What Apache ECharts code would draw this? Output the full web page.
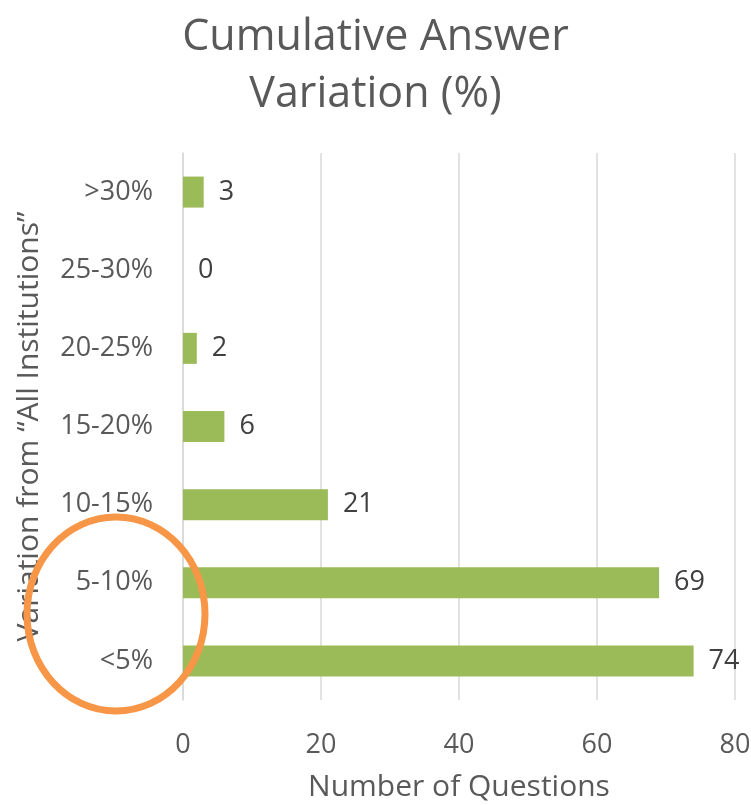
<!DOCTYPE html>
<html>
<head>
    <meta charset="utf-8">
    <title>Cumulative Answer Variation</title>
    <script src="https://cdn.jsdelivr.net/npm/echarts@6/dist/echarts.min.js"></script>
    <style>
        html, body { margin: 0; padding: 0; background: #fff; }
    </style>
</head>
<body>
<div id="main" style="width: 751px;height:805px;"></div>
<script type="text/javascript">
    // data (bottom to top)
    var categories = ['<5%', '5-10%', '10-15%', '15-20%', '20-25%', '25-30%', '>30%'];
    var questionCounts = [74, 69, 21, 6, 2, 0, 3];
    var xTicks = [0, 20, 40, 60, 80];

    var myChart = echarts.init(document.getElementById('main'));
    var font = 'Open Sans';

    var option = {
        animation: false,
        title: {
            text: 'Cumulative Answer\nVariation (%)',
            left: 'center',
            top: 4,
            textStyle: {
                fontFamily: font,
                fontSize: 43,
                fontWeight: 'normal',
                color: '#595959',
                lineHeight: 57
            }
        },
        grid: {
            left: 183,
            right: 16,
            top: 153,
            bottom: 105,
            outerBoundsMode: 'none'
        },
        xAxis: {
            type: 'value',
            min: xTicks[0],
            max: xTicks[xTicks.length - 1],
            interval: 20,
            name: 'Number of Questions',
            nameLocation: 'middle',
            nameGap: 72,
            nameTextStyle: { fontFamily: font, fontSize: 30, color: '#595959' },
            axisLine: { show: false },
            axisTick: { show: false },
            axisLabel: { margin: 32, fontFamily: font, fontSize: 27, color: '#595959' },
            splitLine: { lineStyle: { color: '#D9D9D9', width: 1.5 } }
        },
        yAxis: {
            type: 'category',
            data: categories,
            name: 'Variation from \u201CAll Institutions\u201D',
            nameLocation: 'middle',
            nameGap: 139,
            nameTextStyle: { fontFamily: font, fontSize: 30, color: '#595959' },
            axisLine: { show: true, lineStyle: { color: '#D9D9D9', width: 1.5 } },
            axisTick: { show: false },
            axisLabel: { margin: 30, fontFamily: font, fontSize: 27, color: '#595959' }
        },
        series: [{
            name: 'Number of Questions',
            type: 'bar',
            data: questionCounts,
            barWidth: 31,
            itemStyle: { color: '#9BBB59' },
            label: {
                show: true,
                position: 'right',
                distance: 15,
                fontFamily: font,
                fontSize: 27,
                color: '#404040'
            }
        }],
        graphic: [{
            type: 'ellipse',
            z: 100,
            shape: { cx: 116, cy: 614, rx: 89, ry: 97 },
            style: { fill: 'none', stroke: '#F79646', lineWidth: 7 }
        }]
    };

    myChart.setOption(option);
</script>
</body>
</html>
